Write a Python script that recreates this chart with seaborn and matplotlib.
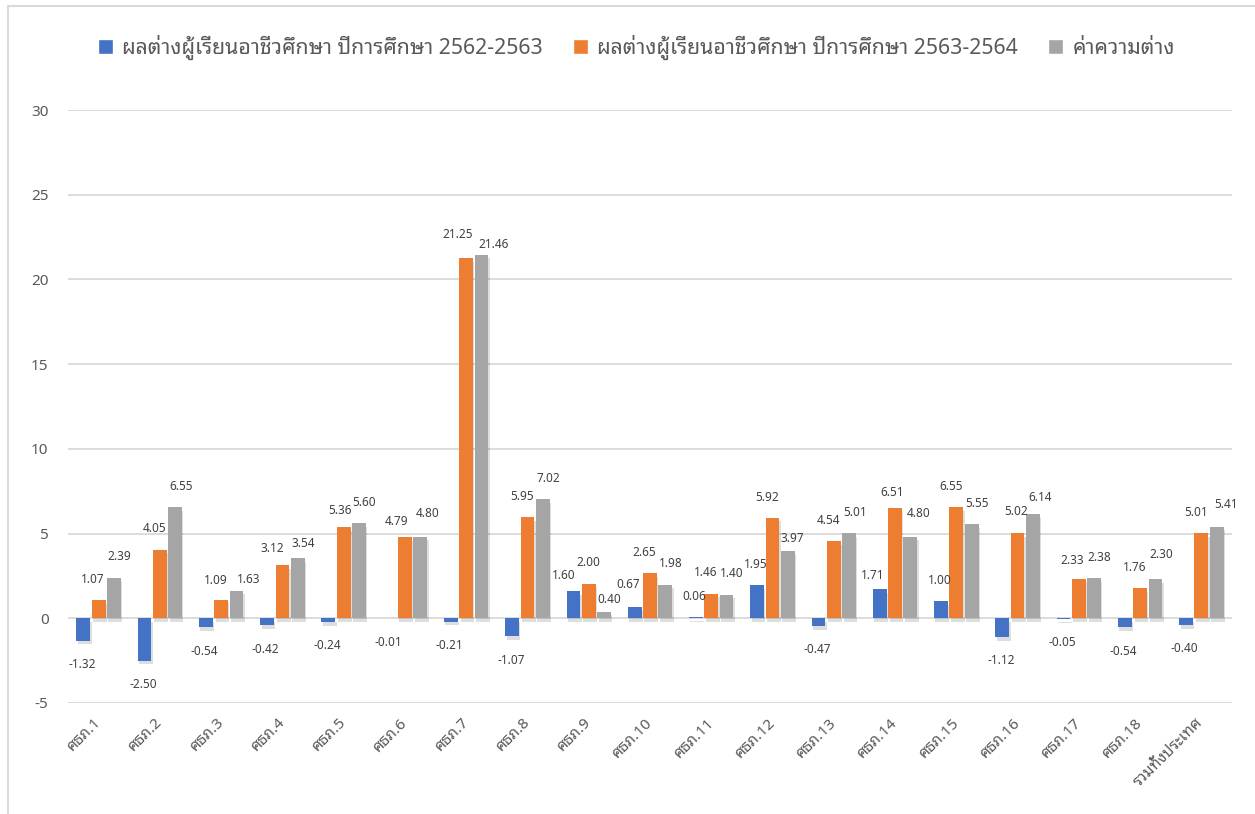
import matplotlib
matplotlib.use("Agg")
import matplotlib.pyplot as plt
import matplotlib.patheffects as pe
from matplotlib.lines import Line2D
import pandas as pd
import seaborn as sns

# Regional education offices and the national total
regions = ["ศธภ.1", "ศธภ.2", "ศธภ.3", "ศธภ.4", "ศธภ.5", "ศธภ.6", "ศธภ.7", "ศธภ.8",
           "ศธภ.9", "ศธภ.10", "ศธภ.11", "ศธภ.12", "ศธภ.13", "ศธภ.14", "ศธภ.15",
           "ศธภ.16", "ศธภ.17", "ศธภ.18", "รวมทั้งประเทศ"]

series_names = ["ผลต่างผู้เรียนอาชีวศึกษา ปีการศึกษา 2562-2563",
                "ผลต่างผู้เรียนอาชีวศึกษา ปีการศึกษา 2563-2564",
                "ค่าความต่าง"]

diff_2562_2563 = [-1.32, -2.50, -0.54, -0.42, -0.24, -0.01, -0.21, -1.07, 1.60, 0.67,
                  0.06, 1.95, -0.47, 1.71, 1.00, -1.12, -0.05, -0.54, -0.40]
diff_2563_2564 = [1.07, 4.05, 1.09, 3.12, 5.36, 4.79, 21.25, 5.95, 2.00, 2.65,
                  1.46, 5.92, 4.54, 6.51, 6.55, 5.02, 2.33, 1.76, 5.01]
gap_values = [2.39, 6.55, 1.63, 3.54, 5.60, 4.80, 21.46, 7.02, 0.40, 1.98,
              1.40, 3.97, 5.01, 4.80, 5.55, 6.14, 2.38, 2.30, 5.41]

y_ticks = [-5, 0, 5, 10, 15, 20, 25, 30]

colors = ["#4472C4", "#ED7D31", "#A5A5A5"]
series_values = [diff_2562_2563, diff_2563_2564, gap_values]

df = pd.DataFrame({
    "region": regions * 3,
    "series": [s for s in series_names for _ in regions],
    "value": diff_2562_2563 + diff_2563_2564 + gap_values,
})

sns.set_theme(style="white")
plt.rcParams["font.family"] = ["Noto Sans Thai Looped", "Noto Sans", "DejaVu Sans"]

fig = plt.figure(figsize=(12.55, 8.14), dpi=100)
ax = fig.add_axes([68 / 1255, 1 - 703 / 814, (1232 - 68) / 1255, (703 - 110) / 814])

sns.barplot(data=df, x="region", y="value", hue="series", order=regions,
            hue_order=series_names, palette=colors, width=0.75, gap=0.1,
            saturation=1, ax=ax)

shadow = [pe.SimplePatchShadow(offset=(1.0, -2.5), shadow_rgbFace="black", alpha=0.13),
          pe.Normal()]
for cont in ax.containers:
    for bar in cont:
        bar.set_path_effects(shadow)
        bar.set_edgecolor("none")

# Value labels outside the end of each bar; a few are nudged to stay readable
x_shift = [-1, -4, 4]
nudges = {
    (1, 2): (-4, 14), (2, 2): (9, 8),
    (1, 3): (-7, 12), (2, 3): (4, 11),
    (1, 4): (-3, 12), (1, 5): (-6, 11), (2, 5): (5, 17),
    (1, 6): (-6, 17), (2, 6): (9, 7),
    (0, 8): (-7, 11), (1, 8): (0, 16), (2, 8): (4, 9),
    (0, 9): (-5, 16), (2, 11): (3, 9),
    (0, 13): (-5, 10), (1, 13): (-2, 11), (2, 13): (6, 17),
    (1, 15): (-1, 16), (2, 15): (5, 12),
    (1, 16): (-5, 13), (2, 17): (4, 18), (2, 18): (7, 16),
}
for k, (cont, vals) in enumerate(zip(ax.containers, series_values)):
    for i, (bar, v) in enumerate(zip(cont, vals)):
        cx = bar.get_x() + bar.get_width() / 2
        dx, dy = nudges.get((k, i), (x_shift[k], 15 if v >= 0 else -17))
        ax.annotate(f"{v:.2f}", xy=(cx, v), xytext=(dx, dy),
                    textcoords="offset points", ha="center", va="center",
                    fontsize=8.5, color="#404040")

ax.set_xlim(-0.5, len(regions) - 0.5)
ax.set_ylim(-5, 30)
ax.set_yticks(y_ticks)
ax.set_yticklabels([str(t) for t in y_ticks])
ax.set_axisbelow(True)
ax.yaxis.grid(True, color="#d9d9d9", linewidth=1.3)
ax.xaxis.grid(False)
for s in ax.spines.values():
    s.set_visible(False)
ax.set_xlabel("")
ax.set_ylabel("")
ax.tick_params(axis="y", length=0, pad=14, labelsize=11, labelcolor="#595959")
ax.tick_params(axis="x", length=0, pad=13, labelsize=11, labelcolor="#595959")
for lab in ax.get_xticklabels():
    lab.set_rotation(45)
    lab.set_ha("right")
    lab.set_va("center")
    lab.set_rotation_mode("anchor")

sns.move_legend(ax, "center", bbox_to_anchor=(0.507, 0.942),
                bbox_transform=fig.transFigure, ncol=3, frameon=False, title=None,
                fontsize=15.3, handlelength=0.7, handleheight=0.7,
                handletextpad=0.45, columnspacing=1.4, labelcolor="#595959")

# Chart frame edges
fig.add_artist(Line2D([8 / 1255, 1], [1 - 6 / 814] * 2, transform=fig.transFigure,
                      color="#d9d9d9", linewidth=1.5))
fig.add_artist(Line2D([8 / 1255] * 2, [0, 1 - 6 / 814], transform=fig.transFigure,
                      color="#d9d9d9", linewidth=1.5))

fig.savefig("out.png", dpi=100)
